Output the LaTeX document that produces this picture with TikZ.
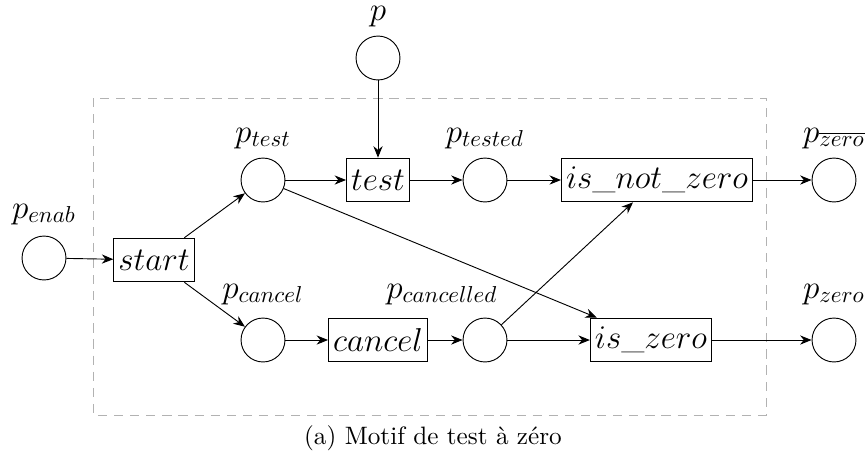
\documentclass[tikz,border=0pt]{standalone}
\usetikzlibrary{arrows.meta}
\begin{document}
\begin{tikzpicture}[x=0.4348pt,y=-0.4348pt,
  place/.style={draw,circle,minimum size=19.1pt,inner sep=0pt},
  trans/.style={draw,rectangle,minimum height=19pt,inner sep=2pt,font=\fontsize{13.7}{16}\selectfont},
  lbl/.style={font=\fontsize{13.7}{16}\selectfont,inner sep=0pt,anchor=base},
  arc/.style={-{Stealth[length=5pt,width=4pt]}}]
\useasboundingbox (0,0) rectangle (867,460);
\draw[gray!60,dashed,dash pattern=on 4pt off 3pt] (93,98) rectangle (766,415);
% places
\node[place] (penab) at (44,258) {};
\node[place] (ptest) at (263,180) {};
\node[place] (pcancel) at (263,340) {};
\node[place] (p) at (378,58) {};
\node[place] (ptested) at (485,180) {};
\node[place] (pcancelled) at (485,340) {};
\node[place] (pzerobar) at (834,180) {};
\node[place] (pzero) at (834,340) {};
% labels
\node[lbl] (lpenab) at (44,218) {$p_{enab}$};
\node[lbl] (lptest) at (263,142) {$p_{test}$};
\node[lbl] (lpcancel) at (263,298) {$p_{cancel}$};
\node[lbl] (lp) at (378,20) {$p$};
\node[lbl] (lptested) at (485,142) {$p_{tested}$};
\node[lbl] (lpcancelled) at (442,298) {$p_{cancelled}$};
\node[lbl] (lpzerobar) at (834,142) {$p_{\overline{zero}}$};
\node[lbl] (lpzero) at (834,298) {$p_{zero}$};
% transitions
\node[trans] (start) at (154,260) {$start$};
\node[trans] (test) at (378,180) {$test$};
\node[trans] (cancel) at (378,340) {$cancel$};
\node[trans] (isnot) at (657,180) {$is\_not\_zero$};
\node[trans] (iszero) at (651,340) {$is\_zero$};
% arcs
\draw[arc] (penab) -- (start);
\draw[arc] (start) -- (ptest);
\draw[arc] (start) -- (pcancel);
\draw[arc] (ptest) -- (test);
\draw[arc] (p) -- (test);
\draw[arc] (test) -- (ptested);
\draw[arc] (ptested) -- (isnot);
\draw[arc] (isnot) -- (pzerobar);
\draw[arc] (ptest) -- (iszero);
\draw[arc] (pcancel) -- (cancel);
\draw[arc] (cancel) -- (pcancelled);
\draw[arc] (pcancelled) -- (iszero);
\draw[arc] (pcancelled) -- (isnot);
\draw[arc] (iszero) -- (pzero);
% caption
\node[inner sep=0pt,font=\fontsize{10.95}{13}\selectfont] (caption) at (433,438) {(a) Motif de test à zéro};
\end{tikzpicture}
\end{document}
